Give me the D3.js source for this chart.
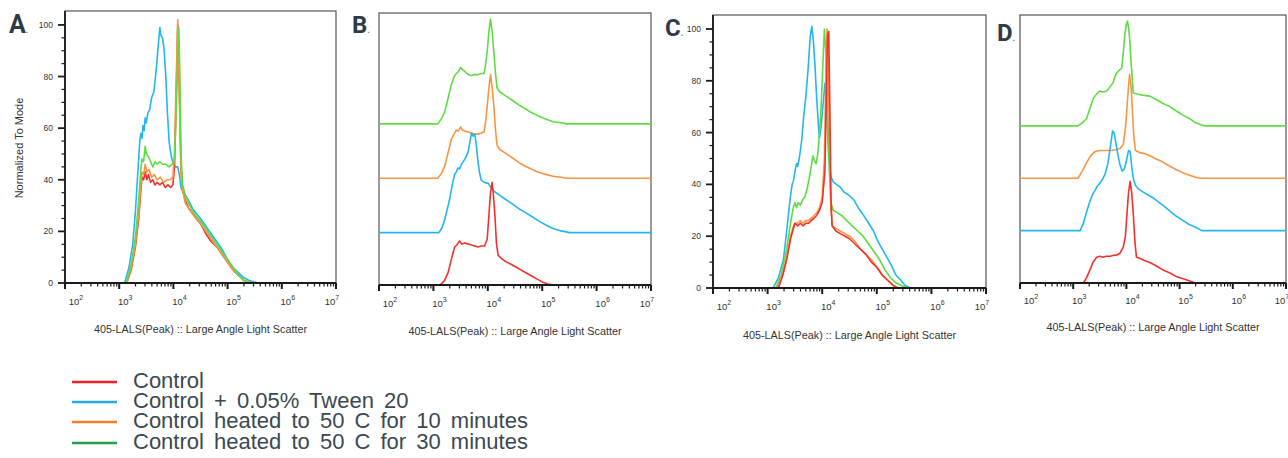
<!DOCTYPE html>
<html><head><meta charset="utf-8">
<script src="https://cdn.jsdelivr.net/npm/d3@7"></script>
<style>
body{margin:0;background:#fff;}
svg{display:block;font-family:Arial,"Liberation Sans",sans-serif;}
</style></head>
<body><svg id="chart" width="1288" height="458"></svg>
<script>
// ---------- data ----------
const seriesNames = ["Control", "Control + 0.05% Tween 20", "Control heated to 50 C for 10 minutes", "Control heated to 50 C for 30 minutes"];
const plotColors = ["#f5302c", "#22b8ef", "#fb9442", "#5edc44"];
const legendColors = ["#ec2227", "#27aae1", "#f47b2a", "#1ea14b"];
const decadeExponents = [2, 3, 4, 5, 6, 7];
const yTickValues = [0, 20, 40, 60, 80, 100];
const panelLetters = ["A", "B", "C", "D"];
const axisTitle = "405-LALS(Peak) :: Large Angle Light Scatter";
const yAxisTitle = "Normalized To Mode";

// each series: [log10(x), value]
const A_red = [[2,0],[3.14,0],[3.22,5],[3.30,14],[3.36,25],[3.40,36],[3.42,41],[3.45,40],[3.48,43],[3.51,40],[3.54,42],[3.58,39],[3.62,40],[3.66,38],[3.70,39],[3.75,38],[3.80,39],[3.85,37],[3.90,38],[3.95,37],[3.99,38],[4.02,45],[4.05,70],[4.08,100],[4.11,75],[4.14,45],[4.17,36],[4.22,32],[4.28,29],[4.35,27],[4.42,25],[4.50,23],[4.60,19],[4.70,16],[4.80,14],[4.90,11],[5.00,8],[5.10,5],[5.20,3],[5.30,1],[5.45,0],[7,0]];
const A_orange = [[2,0],[3.14,0],[3.22,6],[3.30,15],[3.36,27],[3.40,38],[3.42,43],[3.45,42],[3.48,46],[3.51,43],[3.55,44],[3.60,41],[3.65,42],[3.70,40],[3.76,41],[3.82,39],[3.88,40],[3.94,40],[3.99,41],[4.02,50],[4.05,78],[4.08,102],[4.11,72],[4.14,42],[4.17,36],[4.22,31],[4.28,29],[4.35,27],[4.42,25],[4.50,23],[4.60,20],[4.70,17],[4.80,14],[4.90,11],[5.00,8],[5.10,5],[5.20,3],[5.30,1],[5.45,0],[7,0]];
const A_green = [[2,0],[3.13,0],[3.22,7],[3.30,18],[3.36,32],[3.40,44],[3.42,48],[3.45,47],[3.48,53],[3.50,50],[3.54,49],[3.58,47],[3.62,45],[3.66,47],[3.70,46],[3.75,47],[3.80,46],[3.86,46],[3.92,45],[3.98,46],[4.02,48],[4.05,65],[4.08,90],[4.10,99],[4.12,80],[4.14,50],[4.17,38],[4.22,34],[4.28,31],[4.35,28],[4.42,26],[4.50,24],[4.60,21],[4.70,18],[4.80,15],[4.90,12],[5.00,9],[5.10,6],[5.20,3],[5.30,1],[5.45,0],[7,0]];
const A_cyan = [[2,0],[3.10,0],[3.18,6],[3.25,15],[3.30,28],[3.35,45],[3.38,55],[3.40,58],[3.42,56],[3.44,61],[3.46,59],[3.48,64],[3.50,62],[3.53,66],[3.56,67],[3.60,72],[3.64,74],[3.68,82],[3.72,92],[3.75,99],[3.77,96],[3.80,95],[3.83,90],[3.86,80],[3.89,66],[3.92,55],[3.96,49],[4.00,46],[4.04,45],[4.08,45],[4.11,42],[4.14,37],[4.18,35],[4.22,34],[4.28,32],[4.35,29],[4.42,27],[4.50,25],[4.60,22],[4.70,19],[4.80,16],[4.90,13],[5.00,9],[5.10,6],[5.20,4],[5.30,2],[5.40,1],[5.55,0],[7,0]];

const B_red = [[2,0],[3.12,0],[3.20,4],[3.27,12],[3.33,25],[3.39,37],[3.43,39],[3.48,43],[3.52,40],[3.58,41],[3.64,40],[3.70,39],[3.76,38],[3.82,37],[3.88,38],[3.94,38],[3.99,45],[4.02,68],[4.05,90],[4.08,100],[4.10,90],[4.13,68],[4.16,40],[4.19,29],[4.25,26],[4.32,23],[4.40,21],[4.50,18],[4.60,15],[4.70,12],[4.80,9],[4.90,6],[5.00,3],[5.10,1],[5.23,0],[7,0]];
const B_cyan = [[2,0],[3.10,0],[3.16,5],[3.21,13],[3.26,24],[3.30,33],[3.35,47],[3.39,57],[3.42,59],[3.45,63],[3.48,62],[3.52,67],[3.56,70],[3.60,74],[3.64,79],[3.67,88],[3.70,97],[3.73,94],[3.76,96],[3.79,85],[3.82,69],[3.85,58],[3.88,51],[3.94,49],[4.01,48],[4.06,44],[4.10,41],[4.20,37],[4.31,33],[4.45,28],[4.58,23],[4.68,20],[4.80,16],[4.92,12],[5.05,8],[5.20,4],[5.32,2],[5.42,1],[5.50,0],[7,0]];
const B_orange = [[2,0],[3.08,0],[3.15,5],[3.21,12],[3.27,25],[3.33,38],[3.38,43],[3.42,47],[3.46,46],[3.50,50],[3.53,47],[3.58,46],[3.64,45],[3.70,44],[3.76,43],[3.82,43],[3.88,44],[3.93,45],[3.96,55],[3.99,71],[4.02,88],[4.05,101],[4.08,88],[4.11,71],[4.14,48],[4.17,32],[4.22,28],[4.31,25],[4.45,20],[4.58,15],[4.68,12],[4.80,9],[4.92,6],[5.05,4],[5.20,2],[5.35,1],[5.45,0],[7,0]];
const B_green = [[2,0],[3.08,0],[3.15,5],[3.21,12],[3.27,25],[3.33,38],[3.38,46],[3.42,49],[3.46,51],[3.50,55],[3.53,53],[3.58,51],[3.64,48],[3.70,47],[3.76,48],[3.82,48],[3.88,49],[3.93,49],[3.96,58],[3.99,71],[4.02,90],[4.05,102],[4.08,90],[4.11,71],[4.14,50],[4.17,35],[4.22,31],[4.31,28],[4.45,23],[4.58,18],[4.68,15],[4.80,11],[4.92,8],[5.05,5],[5.20,2],[5.35,1],[5.45,0],[7,0]];

const C_cyan = [[2,0],[3.10,0],[3.20,4],[3.29,11],[3.35,22],[3.41,34],[3.45,40],[3.47,41],[3.50,45],[3.53,48],[3.55,47],[3.58,50],[3.60,53],[3.63,58],[3.66,66],[3.70,74],[3.74,84],[3.78,97],[3.81,101],[3.84,95],[3.87,85],[3.90,73],[3.93,63],[3.95,58],[3.98,62],[4.02,72],[4.05,79],[4.08,70],[4.12,50],[4.16,43],[4.20,41],[4.26,40],[4.33,39],[4.40,37],[4.48,36],[4.58,34],[4.66,31],[4.76,28],[4.85,25],[4.94,22],[5.02,18],[5.10,15],[5.18,12],[5.26,9],[5.35,5],[5.44,3],[5.52,1],[5.62,0],[7,0]];
const C_green = [[2,0],[3.15,0],[3.25,5],[3.35,15],[3.42,25],[3.47,31],[3.50,33],[3.53,31],[3.56,33],[3.60,32],[3.64,34],[3.68,35],[3.72,38],[3.76,42],[3.80,47],[3.83,51],[3.86,49],[3.89,48],[3.92,52],[3.95,60],[3.98,70],[4.01,85],[4.04,100],[4.07,90],[4.10,70],[4.13,45],[4.16,33],[4.20,30],[4.28,29],[4.36,28],[4.45,26],[4.55,24],[4.65,22],[4.75,20],[4.85,17],[4.95,14],[5.05,11],[5.15,7],[5.25,4],[5.35,2],[5.45,1],[5.55,0],[7,0]];
const C_orange = [[2,0],[3.18,0],[3.27,5],[3.35,12],[3.42,20],[3.46,23],[3.50,25],[3.55,25],[3.60,26],[3.65,25],[3.70,26],[3.75,26],[3.80,27],[3.85,28],[3.90,29],[3.95,31],[4.00,35],[4.04,50],[4.07,85],[4.09,100],[4.11,88],[4.13,60],[4.16,30],[4.19,24],[4.25,23],[4.33,22],[4.42,21],[4.50,20],[4.60,18],[4.70,15],[4.80,13],[4.90,11],[5.00,8],[5.10,5],[5.20,3],[5.30,1],[5.40,0],[7,0]];
const C_red = [[2,0],[3.20,0],[3.28,5],[3.35,11],[3.42,19],[3.46,22],[3.50,25],[3.55,24],[3.60,25],[3.65,24],[3.70,25],[3.75,25],[3.80,26],[3.85,27],[3.90,28],[3.95,30],[4.00,33],[4.05,45],[4.08,80],[4.10,98],[4.12,99],[4.14,70],[4.16,35],[4.18,24],[4.25,22],[4.33,21],[4.42,20],[4.50,19],[4.60,17],[4.70,15],[4.80,13],[4.90,10],[5.00,8],[5.10,5],[5.20,3],[5.30,1],[5.38,0],[7,0]];

const D_red = [[2,0],[3.19,0],[3.25,5],[3.31,12],[3.37,20],[3.44,25],[3.50,26],[3.56,25],[3.62,26],[3.70,26],[3.76,27],[3.81,27],[3.88,29],[3.94,35],[3.98,45],[4.01,67],[4.04,88],[4.07,99],[4.10,88],[4.13,67],[4.16,40],[4.19,25],[4.25,24],[4.34,22],[4.44,20],[4.55,17],[4.68,13],[4.81,10],[4.95,6],[5.08,4],[5.19,2],[5.30,0],[7,0]];
const D_cyan = [[2,0],[3.13,0],[3.19,7],[3.25,18],[3.31,28],[3.37,36],[3.41,39],[3.46,44],[3.50,46],[3.55,50],[3.60,55],[3.65,65],[3.70,82],[3.74,97],[3.77,95],[3.81,83],[3.84,74],[3.88,64],[3.92,58],[3.96,60],[4.00,68],[4.04,78],[4.07,77],[4.10,62],[4.13,51],[4.17,44],[4.22,41],[4.30,38],[4.40,35],[4.50,32],[4.60,28],[4.70,24],[4.82,19],[4.94,14],[5.06,10],[5.18,6],[5.31,3],[5.42,0],[7,0]];
const D_orange = [[2,0],[3.09,0],[3.17,7],[3.25,15],[3.33,22],[3.41,26],[3.50,27],[3.56,27],[3.65,27],[3.73,27],[3.81,28],[3.88,29],[3.94,33],[3.98,48],[4.01,68],[4.04,90],[4.06,101],[4.09,88],[4.11,68],[4.14,40],[4.17,27],[4.25,25],[4.34,24],[4.44,22],[4.55,19],[4.68,16],[4.81,12],[4.95,8],[5.08,5],[5.19,3],[5.30,1],[5.40,0],[7,0]];
const D_green = [[2,0],[3.09,0],[3.17,3],[3.25,7],[3.32,18],[3.38,27],[3.44,31],[3.50,34],[3.56,33],[3.63,34],[3.69,38],[3.75,42],[3.78,47],[3.81,51],[3.86,54],[3.91,56],[3.94,70],[3.97,89],[4.00,99],[4.02,102],[4.04,96],[4.06,86],[4.09,60],[4.13,32],[4.20,31],[4.30,30],[4.44,29],[4.55,26],[4.68,22],[4.81,19],[4.95,14],[5.08,10],[5.19,7],[5.30,3],[5.40,1],[5.48,0],[7,0]];

// stacking offsets (units) for offset panels: red, cyan, orange, green
const offsetsB = [0, 51, 104, 157];
const offsetsD = [0, 51, 102, 153];

// ---------- layout ----------
const panels = [
  {letter:"A", x0:65, x1:336, y0:11, y1:283, yMax:105.4, yAxis:true,
   series:[A_red, A_cyan, A_orange, A_green], offsets:[0,0,0,0], order:[1,0,2,3],
   lab:{x:9, y:33, size:25}, titleY:333, tickY:305},
  {letter:"B", x0:379, x1:651, y0:13, y1:285, yMax:265, yAxis:false,
   series:[B_red, B_cyan, B_orange, B_green], offsets:offsetsB, order:[3,2,1,0],
   lab:{x:352, y:33, size:24}, titleY:335, tickY:307},
  {letter:"C", x0:713, x1:986, y0:15, y1:288, yMax:105.4, yAxis:true,
   series:[C_red, C_cyan, C_orange, C_green], offsets:[0,0,0,0], order:[1,3,2,0],
   lab:{x:665, y:36, size:24}, titleY:339, tickY:310},
  {letter:"D", x0:1020, x1:1286, y0:15, y1:283, yMax:261, yAxis:false,
   series:[D_red, D_cyan, D_orange, D_green], offsets:offsetsD, order:[3,2,1,0],
   lab:{x:997, y:41, size:24}, titleY:331, tickY:304}
];

const svg = d3.select("#chart");
const defs = svg.append("defs");
const ink = "#1a1a1a";
const textCol = "#333";

panels.forEach((p, pi) => {
  const g = svg.append("g");
  const x = d3.scaleLog().domain([1e2, 1e7]).range([p.x0, p.x1]);
  const y = d3.scaleLinear().domain([0, p.yMax]).range([p.y1, p.y0]);

  defs.append("clipPath").attr("id", "clip" + pi)
    .append("rect").attr("x", p.x0).attr("y", p.y0 - 2)
    .attr("width", p.x1 - p.x0).attr("height", p.y1 - p.y0 + 2);

  // frame
  g.append("rect").attr("x", p.x0).attr("y", p.y0)
    .attr("width", p.x1 - p.x0).attr("height", p.y1 - p.y0)
    .attr("fill", "none").attr("stroke", "#555").attr("stroke-width", 1.2);

  // curves
  const line = (off) => d3.line()
    .x(d => x(Math.pow(10, d[0])))
    .y(d => y(d[1] + off));
  const cg = g.append("g").attr("clip-path", `url(#clip${pi})`);
  p.order.forEach(si => {
    cg.append("path").datum(p.series[si])
      .attr("d", line(p.offsets[si]))
      .attr("fill", "none").attr("stroke", plotColors[si])
      .attr("stroke-width", 1.6).attr("stroke-linejoin", "round");
  });

  // x axis
  const majors = decadeExponents.map(e => Math.pow(10, e));
  const minors = [];
  decadeExponents.slice(0, -1).forEach(e => { for (let m = 2; m <= 9; m++) minors.push(m * Math.pow(10, e)); });
  const xa = g.append("g");
  xa.append("line").attr("x1", p.x0).attr("x2", p.x1).attr("y1", p.y1).attr("y2", p.y1)
    .attr("stroke", ink).attr("stroke-width", 1.8);
  xa.selectAll(".mn").data(minors).join("line")
    .attr("x1", d => x(d)).attr("x2", d => x(d)).attr("y1", p.y1).attr("y2", p.y1 + 3.5)
    .attr("stroke", ink).attr("stroke-width", 1.2);
  xa.selectAll(".mj").data(majors).join("line")
    .attr("x1", d => x(d)).attr("x2", d => x(d)).attr("y1", p.y1).attr("y2", p.y1 + 6)
    .attr("stroke", ink).attr("stroke-width", 2);
  decadeExponents.forEach((e, i) => {
    let cx = x(Math.pow(10, e)) + 6;
    if (i === 0) cx = Math.max(cx, p.x0 + 11);
    if (i === decadeExponents.length - 1) cx = x(Math.pow(10, e)) - 4;
    const t = xa.append("text").attr("x", cx).attr("y", p.tickY)
      .attr("text-anchor", "middle").attr("fill", textCol)
      .attr("font-size", 9.5);
    t.append("tspan").text("10");
    t.append("tspan").attr("dy", -5).attr("font-size", 7).text(String(e));
  });
  g.append("text").attr("x", (p.x0 + p.x1) / 2).attr("y", p.titleY)
    .attr("text-anchor", "middle").attr("font-size", 10.8).attr("fill", textCol)
    .text(axisTitle);

  // y axis
  if (p.yAxis) {
    const ya = g.append("g");
    ya.append("line").attr("x1", p.x0).attr("x2", p.x0).attr("y1", p.y0).attr("y2", p.y1)
      .attr("stroke", ink).attr("stroke-width", 1.8);
    const yMinor = d3.range(0, 101, 5).filter(v => v % 20 !== 0);
    ya.selectAll(".ymn").data(yMinor).join("line")
      .attr("x1", p.x0 - 3.5).attr("x2", p.x0).attr("y1", d => y(d)).attr("y2", d => y(d))
      .attr("stroke", ink).attr("stroke-width", 1.2);
    ya.selectAll(".ymj").data(yTickValues).join("line")
      .attr("x1", p.x0 - 7).attr("x2", p.x0).attr("y1", d => y(d)).attr("y2", d => y(d))
      .attr("stroke", ink).attr("stroke-width", 1.8);
    ya.selectAll(".ylab").data(yTickValues).join("text")
      .attr("x", p.x0 - 12).attr("y", d => y(d) + 3)
      .attr("text-anchor", "end").attr("font-size", 8.5).attr("fill", textCol)
      .text(d => d);
  }

  // panel letter
  const lt = svg.append("text").attr("x", p.lab.x).attr("y", p.lab.y)
    .attr("font-family", "Roboto, Arial, sans-serif").attr("font-weight", 700)
    .attr("font-size", p.lab.size).attr("fill", "#2e3b47");
  lt.append("tspan").text(p.letter);
  lt.append("tspan").attr("font-size", 9).attr("fill", "#777").text(".");
});

// y axis title (panel A)
svg.append("text").attr("transform", "translate(23,148) rotate(-90)")
  .attr("text-anchor", "middle").attr("font-size", 11).attr("fill", textCol)
  .text(yAxisTitle);

// legend
const legendRows = [382, 402, 422, 443];
const lg = svg.append("g");
seriesNames.forEach((name, i) => {
  lg.append("line").attr("x1", 72).attr("x2", 117)
    .attr("y1", legendRows[i]).attr("y2", legendRows[i])
    .attr("stroke", legendColors[i]).attr("stroke-width", 2.6);
  lg.append("text").attr("x", 133).attr("y", legendRows[i] + 6)
    .attr("font-size", 22).attr("fill", "#3b4852")
    .style("word-spacing", "4px")
    .text(name);
});
</script></body></html>
